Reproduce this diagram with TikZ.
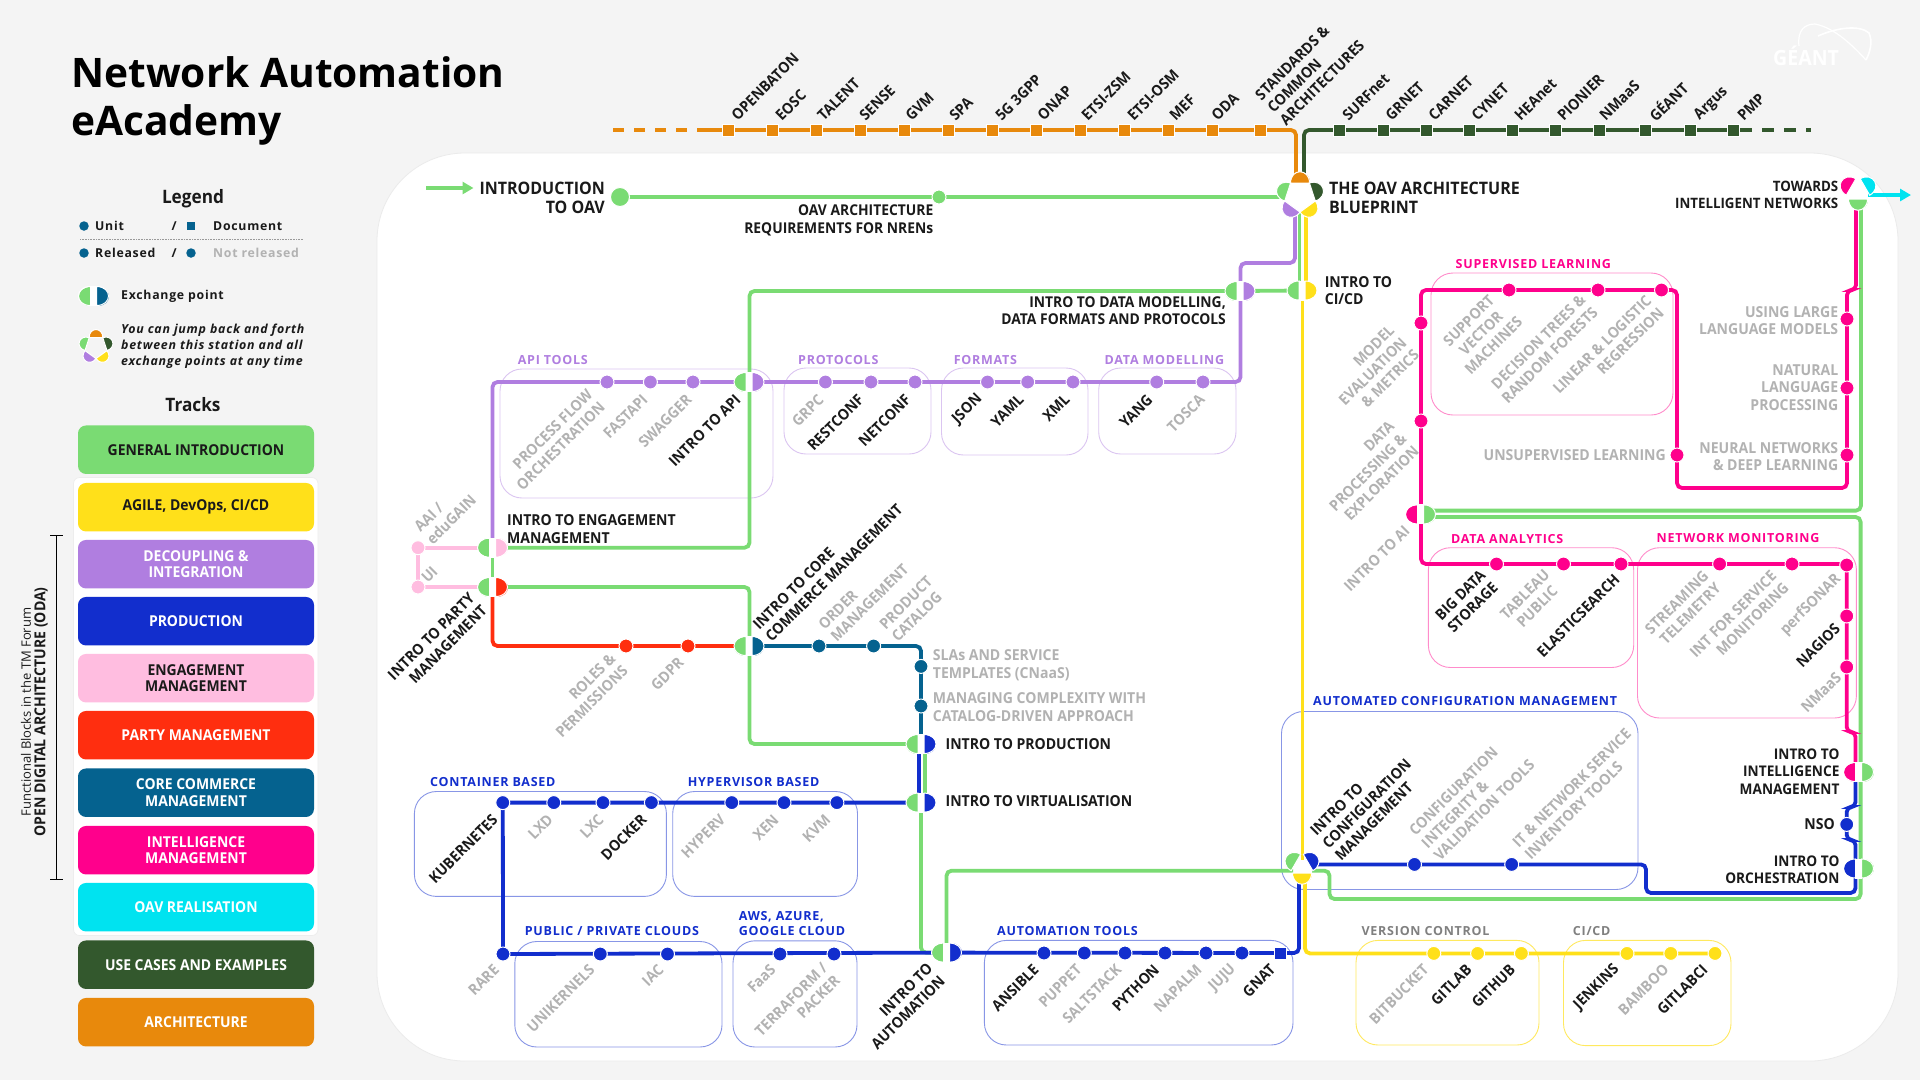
\documentclass[tikz,border=0pt]{standalone}
\usepackage{fontspec}
\setmainfont{Open Sans}[FakeStretch=0.93]
\newfontfamily\titlefont{Open Sans}
\newfontfamily\spfont{Open Sans}[LetterSpace=6]
\usetikzlibrary{arrows.meta}
\definecolor{cgreen}{HTML}{7ADB73}
\definecolor{cyellow}{HTML}{FFE01A}
\definecolor{cpurple}{HTML}{B07EE0}
\definecolor{cblue}{HTML}{122ECD}
\definecolor{cpink}{HTML}{FFBDE0}
\definecolor{cred}{HTML}{FF2E0F}
\definecolor{cteal}{HTML}{05628F}
\definecolor{cmag}{HTML}{FF008C}
\definecolor{ccyan}{HTML}{00E3F0}
\definecolor{cdark}{HTML}{33582D}
\definecolor{corange}{HTML}{E8890C}
\definecolor{cbg}{HTML}{F4F4F4}
\definecolor{cgray}{HTML}{B2B2B2}
\definecolor{cblack}{HTML}{1A1A1A}
\pgfdeclarelayer{bg}
\pgfsetlayers{bg,main}
\tikzset{
 ln/.style={line width=3.8pt,rounded corners=5pt},
 stn/.style={circle,draw=white,line width=1pt,minimum size=14pt,inner sep=0pt},
 sqn/.style={rectangle,draw=white,line width=1pt,minimum size=12pt,inner sep=0pt},
 grp/.style={rounded corners=22pt,line width=0.9pt,fill=none},
 grplab/.style={anchor=west,inner sep=0pt,font=\spfont\bfseries\fontsize{12.5}{15}\selectfont},
 lab/.style={inner sep=0pt,font=\bfseries\fontsize{15.1}{17.5}\selectfont},
 blk/.style={lab,text=cblack},
 gry/.style={lab,text=cgray},
 ru/.style={rotate=45,anchor=west,align=left},
 rd/.style={rotate=45,anchor=east,align=right},
 rc/.style={rotate=45,anchor=center,align=center},
 hl/.style={anchor=west,align=left},
 hr/.style={anchor=east,align=right},
 track/.style={rounded corners=8pt,minimum width=236pt,minimum height=48.5pt,inner sep=0pt,align=center,font=\bfseries\fontsize{15}{16.7}\selectfont},
 leg/.style={inner sep=0pt,anchor=west,font=\spfont\bfseries\fontsize{12.3}{15}\selectfont,text=cblack},
}
\newcount\labn
\newcommand\tlab[4]{\global\advance\labn by 1 \node[#1] (L\the\labn) at (#2,#3) {#4};}
\newcommand\stn[4]{\node[stn,fill=#4] (#1) at (#2,#3) {};}
\newcommand\sqn[4]{\node[sqn,fill=#4] (#1) at (#2,#3) {};}
\newcommand\xch[5]{%
 \coordinate (#1) at (#2,#3);
 \begin{scope}[shift={(#2,#3)}]
  \fill[white] (-3.5,-10) rectangle (3.5,10);
  \filldraw[fill=#4,draw=white,line width=1pt] (-3,-9.5) .. controls (-19,-9.5) and (-19,9.5) .. (-3,9.5) -- cycle;
  \filldraw[fill=#5,draw=white,line width=1pt] (3,-9.5) .. controls (19,-9.5) and (19,9.5) .. (3,9.5) -- cycle;
 \end{scope}}
% centre x,y, angle, colour, distance, scale
\newcommand\petal[6]{%
 \begin{scope}[shift={(#1,#2)},rotate=#3,scale=#6]
  \filldraw[fill=#4,draw=white,line width=1pt] (-9.5,-#5) .. controls (-9.5,-#5-15) and (9.5,-#5-15) .. (9.5,-#5) -- cycle;
 \end{scope}}
\begin{document}
\begin{tikzpicture}[x=1pt,y=-1pt]
\useasboundingbox (0,0) rectangle (1920,1080);
\begin{pgfonlayer}{bg}
 \fill[cbg] (0,0) rectangle (1920,1080);
 \filldraw[fill=white,draw=black!8,line width=0.8pt,rounded corners=88pt] (377,153) rectangle (1898,1061);
 \filldraw[fill=white,draw=black!7,line width=0.7pt,rounded corners=6pt] (73.5,477.5) rectangle (318,935.5);
 % group boxes
 \foreach \a/\b/\c/\d in {500/369/773/498,784/368/931/454,941.5/368/1088/455,1098.7/368/1236/454}
   \draw[grp,draw=cpurple!45] (\a,\b) rectangle (\c,\d);
 \foreach \a/\b/\c/\d in {1431/273/1673/415,1428.4/547.7/1633.7/667.5,1637.5/547.7/1856.4/718}
   \draw[grp,draw=cmag!45] (\a,\b) rectangle (\c,\d);
 \foreach \a/\b/\c/\d in {1281.5/711.5/1638/889.5,984.4/940.4/1293/1045,414.4/791.5/666.4/896.4,672.7/791.5/857.5/896.4,514.8/941.5/722/1047,733/940.8/857/1047}
   \draw[grp,draw=cblue!50] (\a,\b) rectangle (\c,\d);
 \foreach \a/\b/\c/\d in {1356/940.4/1539/1045,1563.5/940.4/1731/1045.6}
   \draw[grp,draw=cyellow!70] (\a,\b) rectangle (\c,\d);
\end{pgfonlayer}

% ---- title and legend
\node[inner sep=0pt,anchor=base west,align=left,font=\titlefont\bfseries\fontsize{40.7}{47.5}\selectfont,text=black] (title) at (71,135) {Network Automation\\eAcademy};
\node[inner sep=0pt,font=\bfseries\fontsize{18.5}{22}\selectfont,text=cblack] (legT) at (193,199) {Legend};
\node[inner sep=0pt,font=\bfseries\fontsize{18.5}{22}\selectfont,text=cblack] (trkT) at (193,405) {Tracks};
\node[circle,fill=cteal,inner sep=0pt,minimum size=9.5pt] (lg1) at (84,226) {};
\tlab{leg}{95}{226}{Unit}
\tlab{leg}{171.5}{226}{/}
\node[rectangle,fill=cteal,inner sep=0pt,minimum size=8.5pt] (lg2) at (191,226) {};
\tlab{leg}{213}{226}{Document}
\coordinate (dl1) at (80,239); \coordinate (dl2) at (303,239);
\draw[black!40,line width=0.7pt,dash pattern=on 0.8pt off 0.8pt] (dl1) -- (dl2);
\node[circle,fill=cteal,inner sep=0pt,minimum size=9.5pt] (lg3) at (84,253) {};
\tlab{leg}{95}{253}{Released}
\tlab{leg}{171.5}{253}{/}
\node[circle,fill=cteal,inner sep=0pt,minimum size=9.5pt] (lg4) at (191,253) {};
\tlab{leg,text=cgray}{213}{253}{Not released}
\xch{lgx}{93.5}{296}{cgreen}{cteal}
\tlab{leg}{121}{296}{Exchange point}
\foreach \an/\co in {0/corange,72/cgreen,144/cpurple,216/cyellow,288/cdark} {\petal{96}{347}{\an}{\co}{13}{0.72}}
\node[inner sep=0pt,anchor=west,align=left,font=\spfont\bfseries\itshape\fontsize{12.4}{16.2}\selectfont,text=cblack] (lgn) at (121,346) {You can jump back and forth\\between this station and all\\exchange points at any time};
% tracks
\node[track,fill=cgreen,text=cblack] (t1) at (196,449.7) {GENERAL INTRODUCTION};
\node[track,fill=cyellow,text=cblack] (t2) at (196,507.2) {AGILE, DevOps, CI/CD};
\node[track,fill=cpurple,text=white] (t3) at (196,564.2) {DECOUPLING \&\\INTEGRATION};
\node[track,fill=cblue,text=white] (t4) at (196,621.2) {PRODUCTION};
\node[track,fill=cpink,text=cblack] (t5) at (196,678.2) {ENGAGEMENT\\MANAGEMENT};
\node[track,fill=cred,text=white] (t6) at (196,735.2) {PARTY MANAGEMENT};
\node[track,fill=cteal,text=white] (t7) at (196,792.7) {CORE COMMERCE\\MANAGEMENT};
\node[track,fill=cmag,text=white] (t8) at (196,850.2) {INTELLIGENCE\\MANAGEMENT};
\node[track,fill=ccyan,text=white] (t9) at (196,907.2) {OAV REALISATION};
\node[track,fill=cdark,text=white] (t10) at (196,964.7) {USE CASES AND EXAMPLES};
\node[track,fill=corange,text=white] (t11) at (196,1022.2) {ARCHITECTURE};
\node[rotate=90,inner sep=0pt,anchor=center,text=cblack,font=\titlefont\fontsize{13}{16}\selectfont] (oda1) at (26,712) {Functional Blocks in the TM Forum};
\node[rotate=90,inner sep=0pt,anchor=center,text=cblack,font=\bfseries\fontsize{15.1}{18}\selectfont] (oda2) at (41,712) {OPEN DIGITAL ARCHITECTURE (ODA)};
\coordinate (br1) at (50,535); \coordinate (br2) at (63,535); \coordinate (br3) at (50,879); \coordinate (br4) at (63,879);
\coordinate (br5) at (56.5,535); \coordinate (br6) at (56.5,879);
\draw[black,line width=1pt] (br1) -- (br2) (br3) -- (br4) (br5) -- (br6);
% Geant logo
\tlab{inner sep=0pt,anchor=west,text=white,font=\bfseries\fontsize{21}{24}\selectfont}{1773}{56}{GÉANT}
\coordinate (ge1) at (1799,46); \coordinate (ge2) at (1815,24); \coordinate (ge3) at (1866,60);
\coordinate (ge4) at (1818,36); \coordinate (ge5) at (1869,33);
\draw[white,line width=1.2pt] (ge1) .. controls (1797,30) and (1805,24) .. (ge2) .. controls (1835,28) and (1852,45) .. (ge3);
\draw[white,line width=1.6pt] (ge4) .. controls (1838,27) and (1860,25) .. (ge5) .. controls (1873,42) and (1870,52) .. (ge3);

% ---- stations
\foreach \n/\x in {a1/728,a2/772,a3/816,a4/860,a5/904,a6/948,a7/992,a8/1036,a9/1080,a10/1124,a11/1168,a12/1212,a13/1260} {\sqn{\n}{\x}{130}{corange}}
\foreach \n/\x in {b1/1339,b2/1383,b3/1426,b4/1469,b5/1512,b6/1555,b7/1599,b8/1645,b9/1690,b10/1733} {\sqn{\n}{\x}{130}{cdark}}
\node[circle,fill=cgreen,draw=white,line width=1pt,minimum size=19pt,inner sep=0pt] (sOAV) at (620,197) {};
\stn{sReq}{939}{197}{cgreen}
\foreach \n/\x in {p1/607,p2/650.4,p3/693,p4/825.4,p5/871,p6/915,p7/987.5,p8/1027.7,p9/1073,p10/1156.7,p11/1203} {\stn{\n}{\x}{382}{cpurple}}
\stn{q1}{418}{547.7}{cpink}
\stn{q2}{418}{587}{cpink}
\stn{r1}{626}{646}{cred}
\stn{r2}{688}{646}{cred}
\stn{c1}{819}{646}{cteal}
\stn{c2}{873.6}{646}{cteal}
\stn{c3}{921}{666.4}{cteal}
\stn{c4}{921}{706}{cteal}
\foreach \n/\x in {k1/502.8,k2/553.8,k3/603,k4/651.4,k5/731.8,k6/784,k7/836.9} {\stn{\n}{\x}{802.6}{cblue}}
\foreach \n/\x in {u1/503,u2/600.3,u3/667.5,u4/780,u5/834} {\stn{\n}{\x}{954}{cblue}}
\foreach \n/\x in {w1/1044,w2/1084.3,w3/1125,w4/1165,w5/1206,w6/1242} {\stn{\n}{\x}{953}{cblue}}
\sqn{wq}{1280}{953}{cblue}
\foreach \n/\x in {y1/1433.8,y2/1477.6,y3/1521.4,y4/1627,y5/1670.8,y6/1715} {\stn{\n}{\x}{953.4}{cyellow}}
\foreach \n/\x in {f1/1414.5,f2/1511.7} {\stn{\n}{\x}{864.4}{cblue}}
\stn{nso}{1846.7}{824.4}{cblue}
\foreach \n/\x in {h1/1509,h2/1598,h3/1661.5} {\stn{\n}{\x}{290}{cmag}}
\stn{h4}{1421}{323}{cmag}
\stn{h5}{1421}{421}{cmag}
\stn{h6}{1677}{455}{cmag}
\stn{h7}{1847}{319}{cmag}
\stn{h8}{1847}{388}{cmag}
\stn{h9}{1847}{455}{cmag}
\foreach \n/\x in {d1/1496.5,d2/1563.5,d3/1621,d4/1719.6,d5/1792} {\stn{\n}{\x}{564}{cmag}}
\stn{d6}{1846.7}{565}{cmag}
\stn{d7}{1846.7}{616}{cmag}
\stn{d8}{1846.7}{667}{cmag}

% ---- exchange points
\xch{xDM}{1240}{291}{cgreen}{cpurple}
\xch{xCI}{1302}{290.5}{cgreen}{cyellow}
\xch{xAPI}{749}{382}{cgreen}{cpurple}
\xch{xEng}{492.5}{547.7}{cgreen}{cpink}
\xch{xPar}{492.5}{587}{cgreen}{cred}
\xch{xCore}{749}{646}{cgreen}{cteal}
\xch{xProd}{921}{744}{cgreen}{cblue}
\xch{xVirt}{921}{802.6}{cgreen}{cblue}
\xch{xAuto}{946.5}{952.6}{cgreen}{cblue}
\xch{xAI}{1420.5}{514.4}{cmag}{cgreen}
\xch{xInt}{1858.5}{772}{cmag}{cgreen}
\xch{xOrc}{1858.5}{868.5}{cblue}{cgreen}
\foreach \an/\co in {0/corange,72/cgreen,144/cpurple,216/cyellow,288/cdark} {\petal{1300}{196}{\an}{\co}{13}{1}}
\foreach \an/\co in {60/cgreen,300/cblue,180/cyellow} {\petal{1302}{866}{\an}{\co}{7}{1}}
\foreach \an/\co in {60/cmag,300/ccyan,180/cgreen} {\petal{1858}{191}{\an}{\co}{8}{1}}

% ---- connector way points and lines
\coordinate (oL) at (613,130); \coordinate (oM) at (707,130); \coordinate (oE) at (1296,178);
\coordinate (nE) at (1304,175); \coordinate (nM) at (1740,130); \coordinate (nR) at (1811,130);
\coordinate (aS) at (426,188); \coordinate (aE) at (473.5,188);
\coordinate (sGL) at (1285,197);
\coordinate (gA) at (1299.5,212); \coordinate (gB) at (1299.5,285);
\coordinate (yA) at (1306,212); \coordinate (yB) at (1306,285); \coordinate (yC) at (1302.4,300); \coordinate (yD) at (1302.4,860);
\coordinate (yE) at (1305,880); \coordinate (yF) at (1305,953.4);
\coordinate (puA) at (1295,210); \coordinate (puB) at (1295,263); \coordinate (puC) at (1240.5,263); \coordinate (puD) at (1240.5,382);
\coordinate (puE) at (492.5,382);
\coordinate (g1) at (749.5,291); \coordinate (g2) at (749.5,547.7);
\coordinate (g3) at (749.5,587); \coordinate (g4) at (749.5,744);
\coordinate (g5) at (924.7,750); \coordinate (g6) at (924.7,796); \coordinate (g7) at (921,952.6);
\coordinate (g8) at (946.5,870.7); \coordinate (g9) at (1293,870.7); \coordinate (g10) at (1312,870.7);
\coordinate (g11) at (1329.5,870.7); \coordinate (g12) at (1329.5,899); \coordinate (g13) at (1860.6,899);
\coordinate (g14) at (1860.6,517); \coordinate (g15) at (1430,517); \coordinate (g16) at (1430,510.6);
\coordinate (g17) at (1861,510.6); \coordinate (g18) at (1861,206);
\coordinate (rA) at (492.5,646);
\coordinate (tA) at (921,646);
\coordinate (bl1) at (919.3,750); \coordinate (bl2) at (919.3,802.6);
\coordinate (bl3) at (1299,953); \coordinate (bl4) at (1299,880);
\coordinate (m1) at (1856,205); \coordinate (m2) at (1856,290); \coordinate (m3) at (1847,290); \coordinate (m4) at (1847,488);
\coordinate (m5) at (1677,488); \coordinate (m6) at (1677,290); \coordinate (m7) at (1421,290); \coordinate (m8) at (1421,564);
\coordinate (m9) at (1846.7,564); \coordinate (m10) at (1846.7,732); \coordinate (m11) at (1855.5,732); \coordinate (m12) at (1855.5,772);
\coordinate (n1) at (1855.5,807); \coordinate (n2) at (1846.7,807); \coordinate (n3) at (1846.7,840); \coordinate (n4) at (1855.5,840);
\coordinate (n5) at (1855.5,893); \coordinate (n6) at (1646,893); \coordinate (n7) at (1646,864.4); \coordinate (n8) at (1315,864.4);
\coordinate (cA) at (1868,195); \coordinate (cB) at (1911,195);
\coordinate (n0) at (1855.5,780);

\begin{pgfonlayer}{bg}
 \draw[line width=3.8pt,corange,dash pattern=on 11pt off 10pt] (oL) -- (oM);
 \draw[ln,corange] (oM) -- (a13.center) -| (oE);
 \draw[ln,cdark] (nE) |- (b10.center);
 \draw[line width=3.8pt,cdark,dash pattern=on 12pt off 10pt] (nM) -- (nR);
 \draw[cgreen,line width=3.8pt,-{Triangle[length=11pt,width=12pt]}] (aS) -- (aE);
 \draw[ln,cgreen] (sOAV.center) -- (sReq.center) -- (sGL);
 \draw[ln,cpurple] (puA) -- (puB) -- (puC) -- (puD) -- (puE) -- (xEng);
 \draw[ln,cgreen] (gA) -- (gB);
 \draw[ln,cyellow] (yA) -- (yB);
 \draw[ln,cyellow] (yC) -- (yD);
 \draw[ln,cyellow] (yE) -- (yF) -- (y6.center);
 \draw[ln,cgreen] (xCI) -- (xDM) -- (g1) -- (g2) -- (xEng);
 \draw[ln,cgreen] (xEng) -- (xPar);
 \draw[ln,cgreen] (xPar) -- (g3) -- (g4) -- (xProd);
 \draw[ln,cgreen] (g5) -- (g6);
 \draw[ln,cgreen] (xVirt) -- (g7) -- (xAuto);
 \draw[ln,cgreen] (xAuto) -- (g8) -- (g9);
 \draw[ln,cgreen] (g10) -- (g11) -- (g12) -- (g13) -- (g14) -- (g15);
 \draw[ln,cgreen] (g16) -- (g17) -- (g18);
 \draw[ln,cpink] (q1.center) -- (q2.center) -- (xPar);
 \draw[ln,cpink] (q1.center) -- (xEng);
 \draw[ln,cred] (xPar) -- (rA) -- (xCore);
 \draw[ln,cteal] (xCore) -- (tA) -- (xProd);
 \draw[ln,cblue] (bl1) -- (bl2);
 \draw[ln,cblue] (xVirt) -- (k1.center) -- (u1.center) -- (xAuto);
 \draw[ln,cblue] (xAuto) -- (wq.center) -- (bl3) -- (bl4);
 \draw[ln,cmag] (m1) -- (m2) -- (m3) -- (m4) -- (m5) -- (m6) -- (m7) -- (m8) -- (m9) -- (m10) -- (m11) -- (m12);
 \draw[ln,cblue] (n0) -- (n1) -- (n2) -- (n3) -- (n4) -- (n5) -- (n6) -- (n7) -- (n8);
 \draw[ccyan,line width=3.8pt,-{Triangle[length=11pt,width=12pt]}] (cA) -- (cB);
\end{pgfonlayer}

% ---- group labels
\tlab{grplab,text=cpurple}{517.6}{360.5}{API TOOLS}
\tlab{grplab,text=cpurple}{798}{360}{PROTOCOLS}
\tlab{grplab,text=cpurple}{953.6}{360}{FORMATS}
\tlab{grplab,text=cpurple}{1104.5}{360}{DATA MODELLING}
\tlab{grplab,text=cmag}{1455.5}{264}{SUPERVISED LEARNING}
\tlab{grplab,text=cmag}{1451}{539.3}{DATA ANALYTICS}
\tlab{grplab,text=cmag}{1656.5}{538.5}{NETWORK MONITORING}
\tlab{grplab,text=cblue}{1313}{701}{AUTOMATED CONFIGURATION MANAGEMENT}
\tlab{grplab,text=black!50}{1361.4}{931}{VERSION CONTROL}
\tlab{grplab,text=black!50}{1572.7}{931}{CI/CD}
\tlab{grplab,text=cblue}{997}{931}{AUTOMATION TOOLS}
\tlab{grplab,text=cblue}{430}{782}{CONTAINER BASED}
\tlab{grplab,text=cblue}{687.6}{782}{HYPERVISOR BASED}
\tlab{grplab,text=cblue}{524.6}{931}{PUBLIC / PRIVATE CLOUDS}
\tlab{grplab,text=cblue,align=left}{738.7}{924}{AWS, AZURE,\\GOOGLE CLOUD}

% ---- top labels
\tlab{blk,ru}{734}{118}{OPENBATON}
\tlab{blk,ru}{778}{118}{EOSC}
\tlab{blk,ru}{820}{118}{TALENT}
\tlab{blk,ru}{862}{118}{SENSE}
\tlab{blk,ru}{908}{118}{GVM}
\tlab{blk,ru}{952}{118}{SPA}
\tlab{blk,ru}{998}{118}{5G 3GPP}
\tlab{blk,ru}{1040}{118}{ONAP}
\tlab{blk,ru}{1084}{118}{ETSI-ZSM}
\tlab{blk,ru}{1130}{118}{ETSI-OSM}
\tlab{blk,ru}{1172}{118}{MEF}
\tlab{blk,ru}{1214}{118}{ODA}
\tlab{blk,ru}{1270}{110}{STANDARDS \&\\COMMON\\ARCHITECTURES}
\tlab{blk,ru}{1345}{118}{SURFnet}
\tlab{blk,ru}{1388}{118}{GRNET}
\tlab{blk,ru}{1431}{118}{CARNET}
\tlab{blk,ru}{1474}{118}{CYNET}
\tlab{blk,ru}{1517}{118}{HEAnet}
\tlab{blk,ru}{1560}{118}{PIONIER}
\tlab{blk,ru}{1602}{118}{NMaaS}
\tlab{blk,ru}{1651}{118}{GÉANT}
\tlab{blk,ru}{1697}{118}{Argus}
\tlab{blk,ru}{1740}{118}{PMP}

% ---- horizontal labels
\tlab{blk,hr,font=\bfseries\fontsize{17.2}{19.3}\selectfont}{605}{197.5}{INTRODUCTION\\TO OAV}
\tlab{blk,hl,font=\bfseries\fontsize{17.2}{19.3}\selectfont}{1329}{197.5}{THE OAV ARCHITECTURE\\BLUEPRINT}
\tlab{blk,hr,font=\bfseries\fontsize{14.9}{17.5}\selectfont}{933.5}{220.5}{OAV ARCHITECTURE\\REQUIREMENTS FOR NRENs}
\tlab{blk,hr,font=\bfseries\fontsize{14.9}{17.5}\selectfont}{1226}{310.5}{INTRO TO DATA MODELLING,\\DATA FORMATS AND PROTOCOLS}
\tlab{blk,hl}{1324.6}{290.5}{INTRO TO\\CI/CD}
\tlab{blk,hr,font=\bfseries\fontsize{14.3}{16.5}\selectfont}{1838.4}{195}{TOWARDS\\INTELLIGENT NETWORKS}
\tlab{gry,hr}{1838.4}{320.5}{USING LARGE\\LANGUAGE MODELS}
\tlab{gry,hr}{1838.4}{387.5}{NATURAL\\LANGUAGE\\PROCESSING}
\tlab{gry,hr}{1838.4}{456.5}{NEURAL NETWORKS\\\& DEEP LEARNING}
\tlab{gry,hr}{1666}{455.3}{UNSUPERVISED LEARNING}
\tlab{blk,hr,font=\bfseries\fontsize{14.7}{17.3}\selectfont}{1839.6}{771.6}{INTRO TO\\INTELLIGENCE\\MANAGEMENT}
\tlab{blk,hr}{1835}{824}{NSO}
\tlab{blk,hr,font=\bfseries\fontsize{14.7}{17.3}\selectfont}{1839.6}{869.6}{INTRO TO\\ORCHESTRATION}
\tlab{blk,hl}{507}{529}{INTRO TO ENGAGEMENT\\MANAGEMENT}
\tlab{gry,hl}{932.7}{665.2}{SLAs AND SERVICE\\TEMPLATES (CNaaS)}
\tlab{gry,hl}{932.7}{707}{MANAGING COMPLEXITY WITH\\CATALOG-DRIVEN APPROACH}
\tlab{blk,hl}{945.4}{744}{INTRO TO PRODUCTION}
\tlab{blk,hl}{945.4}{801.5}{INTRO TO VIRTUALISATION}

% ---- rotated labels
\tlab{gry,rd}{596}{398}{PROCESS FLOW\\ORCHESTRATION}
\tlab{gry,rd}{645}{397}{FASTAPI}
\tlab{gry,rd}{689}{397}{SWAGGER}
\tlab{blk,rd}{738}{397}{INTRO TO API}
\tlab{gry,rd}{821}{397}{GRPC}
\tlab{blk,rd}{861}{397}{RESTCONF}
\tlab{blk,rd}{908}{397}{NETCONF}
\tlab{blk,rd}{980}{397}{JSON}
\tlab{blk,rd}{1021}{397}{YAML}
\tlab{blk,rd}{1067}{397}{XML}
\tlab{blk,rd}{1150}{397}{YANG}
\tlab{gry,rd}{1202}{397}{TOSCA}
\tlab{gry,ru}{423}{535.5}{AAI /\\eduGAIN}
\tlab{gry,ru}{424}{580}{UI}
\tlab{blk,rd}{478}{602}{INTRO TO PARTY\\MANAGEMENT}
\tlab{gry,rd}{619}{662}{ROLES \&\\PERMISSIONS}
\tlab{gry,rd}{681}{660}{GDPR}
\tlab{blk,ru}{761.6}{633}{INTRO TO CORE\\COMMERCE MANAGEMENT}
\tlab{gry,ru}{827}{633}{ORDER\\MANAGEMENT}
\tlab{gry,ru}{888}{633}{PRODUCT\\CATALOG}
\tlab{blk,rd}{495}{817}{KUBERNETES}
\tlab{gry,rd}{550.4}{817}{LXD}
\tlab{gry,rd}{601}{817}{LXC}
\tlab{blk,rd}{644}{817}{DOCKER}
\tlab{gry,rd}{722.6}{817}{HYPERV}
\tlab{gry,rd}{776}{817}{XEN}
\tlab{gry,rd}{827.7}{817}{KVM}
\tlab{gry,rd}{496.4}{967}{RARE}
\tlab{gry,rd}{592}{967}{UNIKERNELS}
\tlab{gry,rd}{661}{967}{IAC}
\tlab{gry,rd}{773}{967}{FaaS}
\tlab{gry,rd}{831}{972}{TERRAFORM /\\PACKER}
\tlab{blk,rd}{936}{972}{INTRO TO\\AUTOMATION}
\tlab{blk,rd}{1036}{967}{ANSIBLE}
\tlab{gry,rd}{1079}{967}{PUPPET}
\tlab{gry,rd}{1118.7}{967}{SALTSTACK}
\tlab{blk,rd}{1156.6}{967}{PYTHON}
\tlab{gry,rd}{1199}{967}{NAPALM}
\tlab{gry,rd}{1233.5}{967}{JUJU}
\tlab{blk,rd}{1272.6}{967}{GNAT}
\tlab{gry,rd}{1426}{967}{BITBUCKET}
\tlab{blk,rd}{1469}{967}{GITLAB}
\tlab{blk,rd}{1512.5}{967}{GITHUB}
\tlab{blk,rd}{1617}{967}{JENKINS}
\tlab{gry,rd}{1666}{967}{BAMBOO}
\tlab{blk,rd}{1705}{967}{GITLABCI}
\tlab{blk,ru}{1325}{845.5}{INTRO TO\\CONFIGURATION\\MANAGEMENT}
\tlab{gry,ru}{1424}{845.5}{CONFIGURATION\\INTEGRITY \&\\VALIDATION TOOLS}
\tlab{gry,ru}{1521}{851}{IT \& NETWORK SERVICE\\INVENTORY TOOLS}
\tlab{blk,rd}{1489}{578.5}{BIG DATA\\STORAGE}
\tlab{gry,rc}{1531}{600.5}{TABLEAU\\PUBLIC}
\tlab{blk,rd}{1617}{577}{ELASTICSEARCH}
\tlab{gry,rd}{1712}{579.5}{STREAMING\\TELEMETRY}
\tlab{gry,rd}{1780}{579.5}{INT FOR SERVICE\\MONITORING}
\tlab{gry,rd}{1838.7}{577}{perfSONAR}
\tlab{blk,rd}{1837.5}{626}{NAGIOS}
\tlab{gry,rd}{1838.7}{675}{NMaaS}
\tlab{gry,rc}{1481}{333}{SUPPORT\\VECTOR\\MACHINES}
\tlab{gry,rd}{1589}{303.5}{DECISION TREES \&\\RANDOM FORESTS}
\tlab{gry,rd}{1655}{304}{LINEAR \& LOGISTIC\\REGRESSION}
\tlab{gry,rd}{1404}{340}{MODEL\\EVALUATION\\\& METRICS}
\tlab{gry,rd}{1404}{436}{DATA\\PROCESSING \&\\EXPLORATION}
\tlab{gry,rd}{1407}{528}{INTRO TO AI}
\end{tikzpicture}
\end{document}
